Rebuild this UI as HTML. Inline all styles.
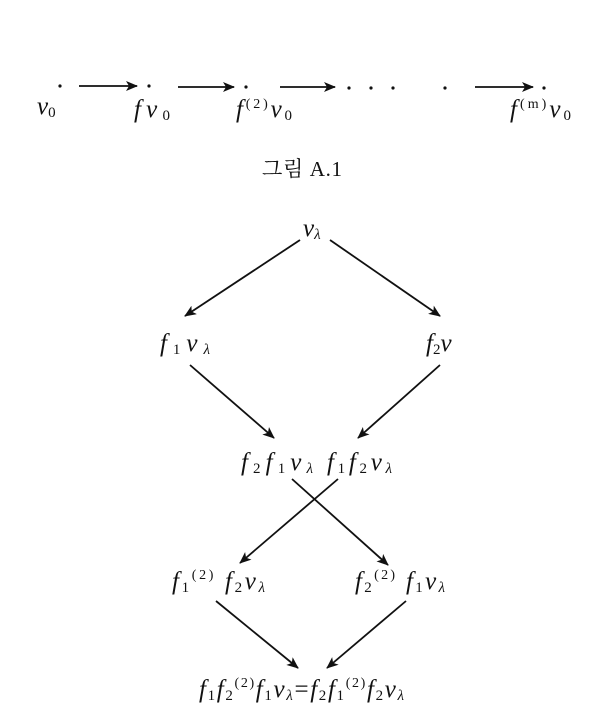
<!DOCTYPE html>
<html><head><meta charset="utf-8"><style>
html,body{margin:0;padding:0;background:#fff;}
svg text{font-family:"Liberation Serif","Noto Serif CJK SC",serif;fill:#111;}
.i{font-style:italic;}
.n{font-style:normal;}
</style></head><body>
<svg width="604" height="708" viewBox="0 0 604 708" xmlns="http://www.w3.org/2000/svg">
<defs><marker id="a" markerWidth="12" markerHeight="10" refX="11" refY="5" orient="auto" markerUnits="userSpaceOnUse"><path d="M0,0 L12,5 L0,10 L3,5 Z" fill="#111"/></marker></defs>
<g fill="#111">
<circle cx="60" cy="86" r="1.6"/><circle cx="149" cy="86" r="1.6"/><circle cx="246" cy="87" r="1.6"/>
<circle cx="349" cy="88" r="1.6"/><circle cx="371" cy="88" r="1.6"/><circle cx="393" cy="88" r="1.6"/>
<circle cx="445" cy="88" r="1.6"/><circle cx="544" cy="88" r="1.6"/>
</g>
<g stroke="#111" stroke-width="1.8" marker-end="url(#a)">
<line x1="79" y1="86" x2="137" y2="86"/><line x1="178" y1="87" x2="234" y2="87"/>
<line x1="280" y1="87" x2="335" y2="87"/><line x1="475" y1="87" x2="533" y2="87"/>
</g>
<g font-size="25">
<text class="i" x="37" y="114">v<tspan class="n" font-size="15" dy="3">0</tspan></text>
<text class="i" x="134" y="117" textLength="36" lengthAdjust="spacing">fv<tspan class="n" font-size="15" dy="3">0</tspan></text>
<text class="i" x="236" y="117" textLength="56" lengthAdjust="spacing">f<tspan class="n" font-size="14" dy="-9">(2)</tspan><tspan dy="9">v</tspan><tspan class="n" font-size="15" dy="3">0</tspan></text>
<text class="i" x="510" y="117" textLength="61" lengthAdjust="spacing">f<tspan class="n" font-size="14" dy="-9">(m)</tspan><tspan dy="9">v</tspan><tspan class="n" font-size="15" dy="3">0</tspan></text>
<text class="n" x="262" y="176" font-size="21" textLength="80" lengthAdjust="spacing">그림 A.1</text>
</g>
<g stroke="#111" stroke-width="1.8" marker-end="url(#a)">
<line x1="300" y1="240" x2="185" y2="316"/><line x1="330" y1="240" x2="440" y2="316"/>
<line x1="190" y1="365" x2="274" y2="438"/><line x1="440" y1="365" x2="358" y2="438"/>
<line x1="292" y1="479" x2="388" y2="565"/><line x1="338" y1="479" x2="240" y2="563"/>
<line x1="216" y1="601" x2="298" y2="668"/><line x1="406" y1="601" x2="327" y2="668"/>
</g>
<g font-size="25">
<text class="i" x="303" y="236">v<tspan font-size="15" dy="3">λ</tspan></text>
<text class="i" x="160" y="351" textLength="50" lengthAdjust="spacing">f<tspan class="n" font-size="15" dy="3">1</tspan><tspan dy="-3">v</tspan><tspan font-size="15" dy="3">λ</tspan></text>
<text class="i" x="426" y="351">f<tspan class="n" font-size="15" dy="3">2</tspan><tspan dy="-3">v</tspan></text>
<text class="i" x="241" y="470" textLength="72" lengthAdjust="spacing">f<tspan class="n" font-size="15" dy="3">2</tspan><tspan dy="-3">f</tspan><tspan class="n" font-size="15" dy="3">1</tspan><tspan dy="-3">v</tspan><tspan font-size="15" dy="3">λ</tspan></text>
<text class="i" x="327" y="470" textLength="65" lengthAdjust="spacing">f<tspan class="n" font-size="15" dy="3">1</tspan><tspan dy="-3">f</tspan><tspan class="n" font-size="15" dy="3">2</tspan><tspan dy="-3">v</tspan><tspan font-size="15" dy="3">λ</tspan></text>
<text class="i" x="172" y="589" textLength="93" lengthAdjust="spacing">f<tspan class="n" font-size="15" dy="3">1</tspan><tspan class="n" font-size="14" dy="-13">(2)</tspan><tspan dy="10"> f</tspan><tspan class="n" font-size="15" dy="3">2</tspan><tspan dy="-3">v</tspan><tspan font-size="15" dy="3">λ</tspan></text>
<text class="i" x="355" y="589" textLength="90" lengthAdjust="spacing">f<tspan class="n" font-size="15" dy="3">2</tspan><tspan class="n" font-size="14" dy="-13">(2)</tspan><tspan dy="10"> f</tspan><tspan class="n" font-size="15" dy="3">1</tspan><tspan dy="-3">v</tspan><tspan font-size="15" dy="3">λ</tspan></text>
<text class="i" x="199" y="697" textLength="205" lengthAdjust="spacing">f<tspan class="n" font-size="15" dy="3">1</tspan><tspan dy="-3">f</tspan><tspan class="n" font-size="15" dy="3">2</tspan><tspan class="n" font-size="14" dy="-13">(2)</tspan><tspan dy="10">f</tspan><tspan class="n" font-size="15" dy="3">1</tspan><tspan dy="-3">v</tspan><tspan font-size="15" dy="3">λ</tspan><tspan class="n" dy="-3">=</tspan><tspan>f</tspan><tspan class="n" font-size="15" dy="3">2</tspan><tspan dy="-3">f</tspan><tspan class="n" font-size="15" dy="3">1</tspan><tspan class="n" font-size="14" dy="-13">(2)</tspan><tspan dy="10">f</tspan><tspan class="n" font-size="15" dy="3">2</tspan><tspan dy="-3">v</tspan><tspan font-size="15" dy="3">λ</tspan></text>
</g>
</svg>
</body></html>
